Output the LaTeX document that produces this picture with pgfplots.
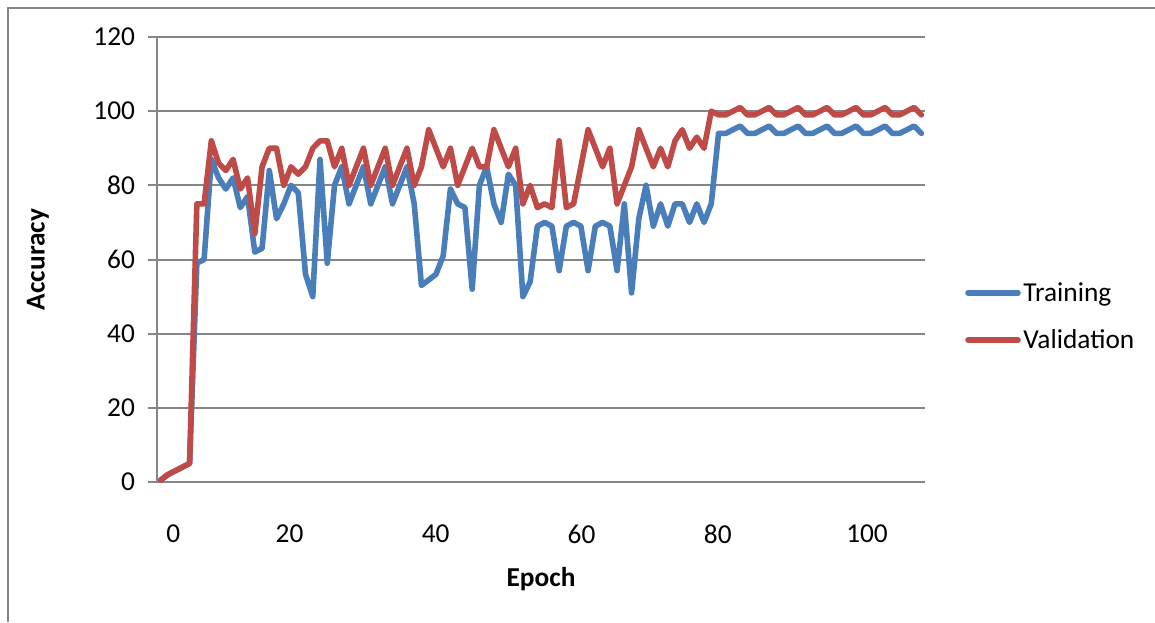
\documentclass[border=0pt]{standalone}
\usepackage{fontspec}
\setmainfont{Carlito}
\usepackage{pgfplots}
\usepackage{pgfplotstable}
\pgfplotsset{compat=1.18}
\definecolor{trainblue}{HTML}{4A7EBB}
\definecolor{valred}{HTML}{BE4B48}
\definecolor{gridgray}{HTML}{868686}
\pgfplotstableread{
i  train val
0  0.5  0.5
1  2    2
2  3    3
3  4    4
4  5    5
5  59   75
6  60   75
7  87   92
8  82   86
9  79   84
10 82   87
11 74   79
12 77   82
13 62   67
14 63   85
15 84   90
16 71   90
17 75   80
18 80   85
19 78   83
20 56   85
21 50   90
22 87   92
23 59   92
24 80   85
25 85   90
26 75   80
27 80   85
28 85   90
29 75   80
30 80   85
31 85   90
32 75   80
33 80   85
34 85   90
35 75   80
36 53   85
37 54.5 95
38 56   90
39 61   85
40 79   90
41 75   80
42 74   85
43 52   90
44 80   85
45 85   85
46 75   95
47 70   90
48 83   85
49 80   90
50 50   75
51 54   80
52 69   74
53 70   75
54 69   74
55 57   92
56 69   74
57 70   75
58 69   85
59 57   95
60 69   90
61 70   85
62 69   90
63 57   75
64 75   80
65 51   85
66 71   95
67 80   90
68 69   85
69 75   90
70 69   85
71 75   92
72 75   95
73 70   90
74 75   93
75 70   90
76 75   100
77 94   99
78 94   99
79 95   100
80 96   101
81 94   99
82 94   99
83 95   100
84 96   101
85 94   99
86 94   99
87 95   100
88 96   101
89 94   99
90 94   99
91 95   100
92 96   101
93 94   99
94 94   99
95 95   100
96 96   101
97 94   99
98 94   99
99 95   100
100 96  101
101 94  99
102 94  99
103 95  100
104 96  101
105 94  99
}\datatable
\begin{document}
\begin{tikzpicture}
\useasboundingbox (0pt,0pt) rectangle (866.25pt,466.5pt);
\draw[gridgray, line width=1.2pt] (6pt,0pt) -- (6pt,460.5pt) -- (866.25pt,460.5pt);
\begin{axis}[
  at={(117.75pt,105pt)}, anchor=south west,
  scale only axis, width=576pt, height=333.75pt,
  xmin=-0.5, xmax=105.5, ymin=0, ymax=120,
  ytick={0,20,...,120},
  xtick={1.74,17.8,37.96,58.1,76.9,97.5},
  xticklabels={0,20,40,60,80,100},
  axis lines*=left,
  axis line style={gridgray, line width=1.5pt},
  ymajorgrids, grid style={gridgray, line width=1.5pt},
  xtick style={draw=none},
  ytick style={gridgray, line width=1.5pt},
  tick align=outside, major tick length=6.75pt,
  tick label style={font=\fontsize{20.5}{24}\selectfont, text=black},
  /pgf/number format/assume math mode=true,
  yticklabel style={xshift=-6.25pt},
  xticklabel style={yshift=-21.75pt},
  xlabel={\bfseries Epoch},
  ylabel={\bfseries Accuracy},
  every axis x label/.style={at={(axis description cs:0.5,-0.218)}, anchor=center, font=\fontsize{20.5}{24}\selectfont},
  every axis y label/.style={at={(axis description cs:-0.155,0.5)}, anchor=center, rotate=90, font=\fontsize{20.5}{24}\selectfont},
  legend style={at={(axis description cs:1.052,0.372)}, anchor=west, draw=none, fill=none,
     font=\fontsize{20.5}{24}\selectfont, row sep=15.5pt, inner sep=0pt,
     nodes={inner sep=2pt}},
  legend cell align=left,
  legend image code/.code={\draw[#1] (0pt,0pt) -- (37.5pt,0pt);},
  every axis plot/.append style={line width=4.2pt, line join=round, line cap=round},
  clip=false,
]
\addplot[trainblue] table[x=i, y=train] {\datatable};
\addlegendentry{Training}
\addplot[valred] table[x=i, y=val] {\datatable};
\addlegendentry{Validation}
\end{axis}
\end{tikzpicture}
\end{document}
